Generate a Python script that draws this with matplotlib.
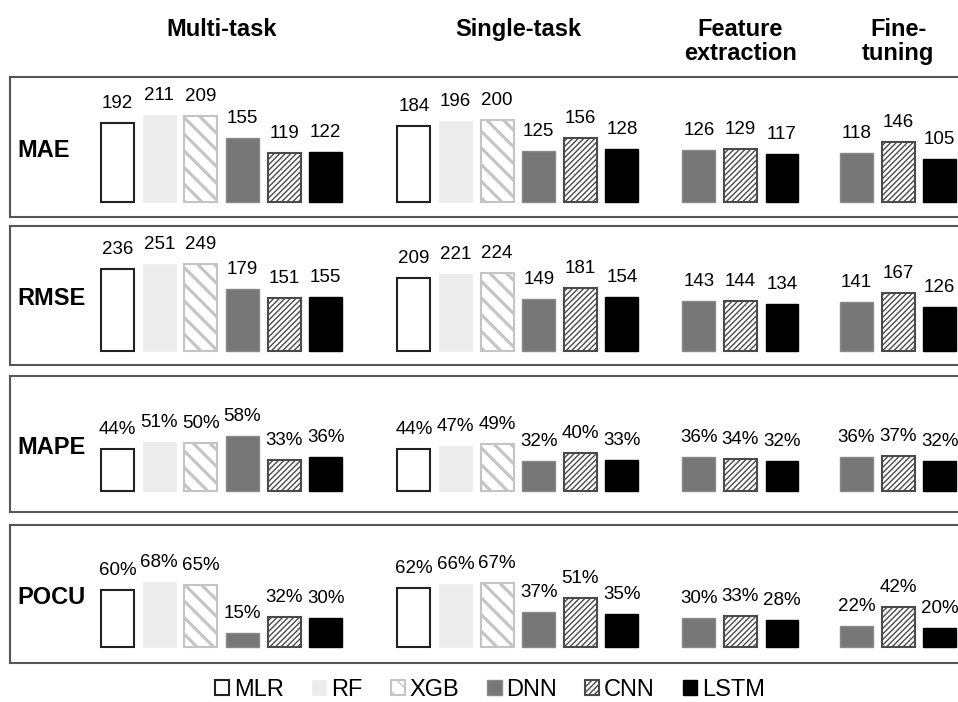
import matplotlib
matplotlib.use("Agg")
import matplotlib.pyplot as plt
from matplotlib.patches import Patch
from matplotlib.transforms import blended_transform_factory

plt.rcParams['font.family'] = ['Liberation Sans', 'DejaVu Sans']

# data
models = ['MLR', 'RF', 'XGB', 'DNN', 'CNN', 'LSTM']
groups = ['Multi-task', 'Single-task', 'Feature\nextraction', 'Fine-\ntuning']
group_models = [models, models, ['DNN', 'CNN', 'LSTM'], ['DNN', 'CNN', 'LSTM']]
metrics = ['MAE', 'RMSE', 'MAPE', 'POCU']
mae = [[192, 211, 209, 155, 119, 122], [184, 196, 200, 125, 156, 128], [126, 129, 117], [118, 146, 105]]
rmse = [[236, 251, 249, 179, 151, 155], [209, 221, 224, 149, 181, 154], [143, 144, 134], [141, 167, 126]]
mape = [[44, 51, 50, 58, 33, 36], [44, 47, 49, 32, 40, 33], [36, 34, 32], [36, 37, 32]]
pocu = [[60, 68, 65, 15, 32, 30], [62, 66, 67, 37, 51, 35], [30, 33, 28], [22, 42, 20]]
values = [mae, rmse, mape, pocu]
suffix = ['', '', '%', '%']

# bar styles per model
styles = {
    'MLR':  dict(facecolor='white', edgecolor='#222222', linewidth=1.5, hatch=None, hlw=1.0),
    'RF':   dict(facecolor='#ececec', edgecolor='#ececec', linewidth=0.5, hatch=None, hlw=1.0),
    'XGB':  dict(facecolor='white', edgecolor='#c4c4c4', linewidth=1.5, hatch='\\\\', hlw=2.2),
    'DNN':  dict(facecolor='#777777', edgecolor='#8a8a8a', linewidth=1.0, hatch=None, hlw=1.0),
    'CNN':  dict(facecolor='white', edgecolor='#4a4a4a', linewidth=1.5, hatch='//////', hlw=1.0),
    'LSTM': dict(facecolor='black', edgecolor='black', linewidth=1.0, hatch=None, hlw=1.0),
}

# layout in pixels: panel top, panel bottom, bar base, value units per pixel
W, H = 958, 702
panels = [(77, 217, 202, 2.43), (226, 365, 351, 2.87), (376, 512, 491, 1.05), (525, 663, 647, 1.05)]
x0_px, step_px = 117.7, 41.6
group_start = [0, 7.12, 13.97, 17.76]   # in bar slots
bar_w = 0.79
ax_left, ax_right = 10, 1010

fig = plt.figure(figsize=(W / 100, H / 100), dpi=100)
axes = []
for m, (top, bot, base, upp) in enumerate(panels):
    ax = fig.add_axes([ax_left / W, 1 - bot / H, (ax_right - ax_left) / W, (bot - top) / H])
    ax.set_xlim((ax_left - x0_px) / step_px, (ax_right - x0_px) / step_px)
    ax.set_ylim(-(bot - base) * upp, (base - top) * upp)
    ax.set_xticks([])
    ax.set_yticks([])
    for s in ax.spines.values():
        s.set_color('#555555')
        s.set_linewidth(1.5)

    for g, gname in enumerate(groups):
        for k, mod in enumerate(group_models[g]):
            st = styles[mod]
            v = values[m][g][k]
            bars = ax.bar(group_start[g] + k, v, width=bar_w, facecolor=st['facecolor'],
                          edgecolor=st['edgecolor'], linewidth=st['linewidth'], hatch=st['hatch'])
            for b in bars:
                if hasattr(b, 'set_hatch_linewidth'):
                    b.set_hatch_linewidth(st['hlw'])
            ax.annotate(f"{v}{suffix[m]}", (group_start[g] + k, v), xytext=(0, 14),
                        textcoords='offset points', ha='center', va='center', fontsize=13.5)

    ax.text(7 / (ax_right - ax_left), 0.475, metrics[m], transform=ax.transAxes,
            ha='left', va='center', fontsize=17, fontweight='bold')
    axes.append(ax)

# group titles above the top panel
trans = blended_transform_factory(axes[0].transData, fig.transFigure)
for g, gname in enumerate(groups):
    cx = group_start[g] + (len(group_models[g]) - 1) / 2
    axes[0].text(cx, 1 - 18 / H, gname, transform=trans, ha='center', va='top',
                 fontsize=17, fontweight='bold', linespacing=1.05)

# legend
handles = []
for mod in models:
    st = styles[mod]
    p = Patch(facecolor=st['facecolor'], edgecolor=st['edgecolor'], linewidth=st['linewidth'],
              hatch=st['hatch'], label=mod)
    handles.append(p)
fig.legend(handles=handles, loc='center', bbox_to_anchor=(490 / W, 1 - 690 / H), ncol=6,
           frameon=False, fontsize=17, handlelength=0.6, handleheight=0.6,
           handletextpad=0.2, columnspacing=1.2, borderpad=0)

fig.savefig('out.png', dpi=100)
